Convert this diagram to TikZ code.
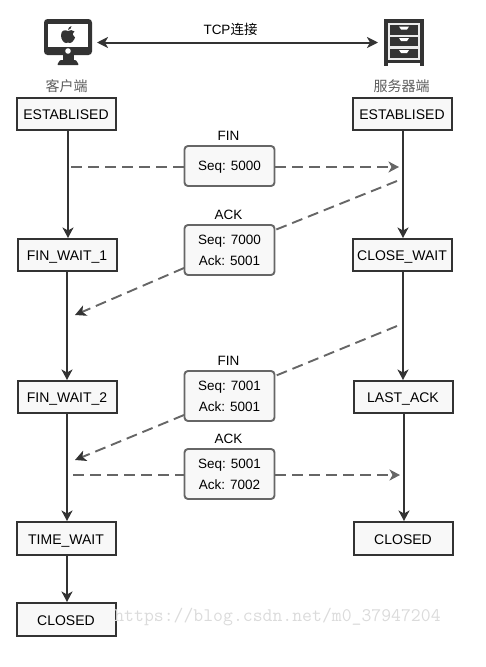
\documentclass[tikz,border=0pt]{standalone}
\usepackage{fontspec}
\setmainfont{Liberation Sans}
\newfontfamily\cjkfont{Noto Sans CJK SC}
\usetikzlibrary{arrows.meta}
\definecolor{ink}{HTML}{333333}
\definecolor{dashc}{HTML}{666666}
\definecolor{fillc}{HTML}{F8F8F8}
\tikzset{
  x=1pt,y=-1pt,
  state/.style={draw=ink,line width=2pt,fill=fillc,minimum width=99pt,minimum height=32.5pt,inner sep=0pt,font=\fontsize{14}{16}\selectfont,text=black,anchor=center,text height=11.5pt,text depth=0pt},
  msg/.style={draw=dashc,line width=1.9pt,fill=fillc,rounded corners=3.5pt,minimum width=90pt,inner sep=0pt,align=center,font=\fontsize{13.5}{21}\selectfont,text=black,text depth=0pt},
  lab/.style={font=\fontsize{13.5}{15}\selectfont,text=black,inner sep=0pt},
  cjk/.style={font=\cjkfont\fontsize{14}{16}\selectfont,text=ink!80,inner sep=0pt},
  flow/.style={draw=ink,line width=2pt,-{Stealth[inset=3pt,length=10.5pt,width=11pt]}},
  dashline/.style={draw=dashc,line width=1.9pt,dash pattern=on 11pt off 6pt},
  dasharrow/.style={dashline,-{Stealth[inset=3pt,length=10.5pt,width=11pt,color=dashc]}},
  dasharrowdark/.style={dashline,-{Stealth[inset=3pt,length=11pt,width=11pt,color=ink]}},
  both/.style={draw=ink,line width=2pt,{Stealth[inset=3pt,length=11pt,width=11pt]}-{Stealth[inset=3pt,length=11pt,width=11pt]}}
}
\begin{document}
\begin{tikzpicture}
\useasboundingbox (0,0) rectangle (485,667);
% client icon
\fill[ink,rounded corners=3.5pt] (44,19) rectangle (92,55);
\fill[white] (48,23.5) rectangle (88,47);
\fill[ink] (62.5,55) rectangle (73.5,60);
\fill[ink,rounded corners=1pt] (57,65) -- (60,60) -- (76,60) -- (79,65) -- cycle;
\fill[white] (68,51) circle (2.8);
% apple
\fill[ink] (68,31) .. controls (65,29.5) and (61,30) .. (61,35.5) .. controls (61,39.5) and (64,43) .. (66,43) .. controls (67,43) and (67.5,42.5) .. (68,42.5) .. controls (68.5,42.5) and (69,43) .. (70,43) .. controls (72,43) and (74.5,39.5) .. (75,37.5) .. controls (72.5,36.5) and (72,33) .. (74.5,31.5) .. controls (72.5,29.5) and (70,30) .. (68,31) -- cycle;
\fill[ink] (68,30) .. controls (68,28) and (69.5,26.5) .. (71.5,26) .. controls (71.5,28) and (70,29.8) .. (68,30) -- cycle;
% server icon
\fill[ink] (384,19) rectangle (424,66);
\fill[white] (388,63) rectangle (420,66);
\foreach \yy in {24,35.5,47.5}{
  \draw[white!92!black,line width=2pt] (389,\yy) rectangle (419,\yy+11.5);
  \fill[white] (399,\yy+2.5) -- (409,\yy+2.5) -- (407,\yy+5.5) -- (401,\yy+5.5) -- cycle;
}
\coordinate (cl) at (97,42.5);
\coordinate (sr) at (378,42.5);
\draw[both] (cl) -- (sr);
\node[lab] (tcp) at (230.5,29.5) {TCP{\cjkfont 连接}};
\node[cjk] (c1) at (66.5,86) {客户端};
\node[cjk] (s1) at (401.5,86) {服务器端};
% states
\node[state] (a1) at (66,114) {ESTABLISED};
\node[state] (a2) at (67,255) {FIN\_WAIT\_1};
\node[state] (a3) at (67,397) {FIN\_WAIT\_2};
\node[state] (a4) at (66,538.5) {TIME\_WAIT};
\node[state] (a5) at (66,619.5) {CLOSED};
\node[state] (b1) at (402,114) {ESTABLISED};
\node[state] (b2) at (402,255) {CLOSE\_WAIT};
\node[state] (b3) at (403,397) {LAST\_ACK};
\node[state] (b4) at (403,538.5) {CLOSED};
% state lines
\coordinate (a1s) at (68,131);
\coordinate (a2n) at (68,238);
\coordinate (a2s) at (67,272);
\coordinate (a3n) at (67,380);
\coordinate (a3s) at (67,414);
\coordinate (a4n) at (67,521);
\coordinate (a4s) at (67,555);
\coordinate (a5n) at (67,602);
\coordinate (b1s) at (403,131);
\coordinate (b2n) at (403,238);
\coordinate (b2s) at (403,272);
\coordinate (b3n) at (403,380);
\coordinate (b3s) at (404,414);
\coordinate (b4n) at (404,521);
\draw[flow] (a1s) -- (a2n);
\draw[flow] (a2s) -- (a3n);
\draw[flow] (a3s) -- (a4n);
\draw[flow] (a4s) -- (a5n);
\draw[flow] (b1s) -- (b2n);
\draw[flow] (b2s) -- (b3n);
\draw[flow] (b3s) -- (b4n);
% messages
\node[msg,minimum height=40pt] (m1) at (229.5,166) {Seq: 5000};
\node[msg,minimum height=50pt] (m2) at (229.5,250) {Seq: 7000\\Ack: 5001};
\node[msg,minimum height=50pt] (m3) at (229.5,396) {Seq: 7001\\Ack: 5001};
\node[msg,minimum height=50pt] (m4) at (229.5,474) {Seq: 5001\\Ack: 7002};
\node[lab] (l1) at (228.5,135.7) {FIN};
\node[lab] (l2) at (228.5,214.7) {ACK};
\node[lab] (l3) at (228.5,360.7) {FIN};
\node[lab] (l4) at (228.5,438.7) {ACK};
% dashed flows
\coordinate (d1a) at (71,167);
\coordinate (d1b) at (399,167);
\coordinate (d2a) at (397,181);
\coordinate (d2m) at (275,230);
\coordinate (d2n) at (184,268);
\coordinate (d2b) at (75,315);
\coordinate (d3a) at (397,326);
\coordinate (d3m) at (275,376);
\coordinate (d3n) at (184,415);
\coordinate (d3b) at (75,460);
\coordinate (d4a) at (73,475);
\coordinate (d4b) at (400,475);
\draw[dashline] (d1a) -- (m1.west|-d1a);
\draw[dasharrow] (m1.east|-d1b) -- (d1b);
\draw[dashline] (d2a) -- (d2m);
\draw[dasharrowdark] (d2n) -- (d2b);
\draw[dashline] (d3a) -- (d3m);
\draw[dasharrowdark] (d3n) -- (d3b);
\draw[dashline] (d4a) -- (m4.west|-d4a);
\draw[dasharrow] (m4.east|-d4b) -- (d4b);
% watermark
\node[font=\ttfamily\fontsize{19.2}{21}\selectfont,text=black!14,inner sep=0pt,anchor=center] (wm) at (277.5,617) {https://blog.csdn.net/m0\_37947204};
\end{tikzpicture}
\end{document}
